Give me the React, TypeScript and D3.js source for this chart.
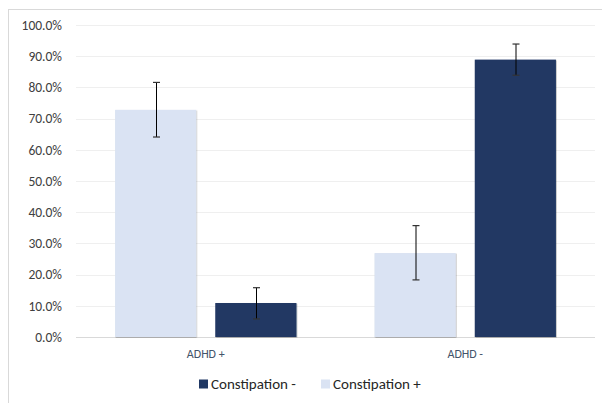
import React, { useEffect, useRef } from 'react';
import * as d3 from 'd3';

const categories = ['ADHD +', 'ADHD -'];
const seriesNames = ['Constipation +', 'Constipation -'];
const seriesColors = ['#DAE3F3', '#203864'];
// values per category, order: Constipation +, Constipation -
const values = [
  [72.8, 10.9],
  [26.9, 88.9],
];
const errLow = [
  [64.1, 5.8],
  [18.3, 83.9],
];
const errHigh = [
  [81.6, 15.8],
  [35.7, 93.9],
];
const yTicks = [0, 10, 20, 30, 40, 50, 60, 70, 80, 90, 100];
const legendOrder = [1, 0];

const FONT = 'Carlito, Lato, "Open Sans", sans-serif';

const App: React.FC = () => {
  const svgRef = useRef<SVGSVGElement>(null);

  useEffect(() => {
    if (!svgRef.current) return;
    const svg = d3.select(svgRef.current);
    svg.selectAll('*').remove();

    const W = 602;
    const H = 395;

    // chart border (extends past the window on right/bottom)
    svg.append('rect')
      .attr('x', 0.5).attr('y', 1.5)
      .attr('width', W + 20).attr('height', H + 20)
      .attr('fill', '#fff')
      .attr('stroke', '#D9D9D9');

    const left = 68, right = 587, top = 17, bottom = 329;

    const x = d3.scaleBand<string>().domain(categories).range([left, right]);
    const y = d3.scaleLinear().domain([0, 100]).range([bottom, top]);

    const g = svg.append('g');

    // gridlines
    g.selectAll('.grid')
      .data(yTicks)
      .enter().append('line')
      .attr('x1', left).attr('x2', right)
      .attr('y1', d => Math.round(y(d)) + 0.5)
      .attr('y2', d => Math.round(y(d)) + 0.5)
      .attr('stroke', d => (d === 0 ? '#D9D9D9' : '#EFEFEF'))
      .attr('stroke-width', 1);

    // y labels
    g.selectAll('.ylab')
      .data(yTicks)
      .enter().append('text')
      .attr('x', left - 14)
      .attr('y', d => y(d))
      .attr('dy', '0.35em')
      .attr('text-anchor', 'end')
      .attr('font-family', FONT)
      .attr('font-size', 13.5)
      .attr('fill', '#404040')
      .text(d => d.toFixed(1) + '%');

    const inner = d3.scaleBand<number>()
      .domain([0, 1])
      .range([0, x.bandwidth()])
      .paddingInner(0.19)
      .paddingOuter(0.39);

    const defs = svg.append('defs');
    const filter = defs.append('filter').attr('id', 'shadow')
      .attr('x', '-10%').attr('y', '-10%').attr('width', '120%').attr('height', '120%');
    filter.append('feDropShadow')
      .attr('dx', 0.6).attr('dy', 0.6).attr('stdDeviation', 0.6)
      .attr('flood-color', '#000').attr('flood-opacity', 0.35);

    categories.forEach((cat, ci) => {
      const cg = g.append('g').attr('transform', `translate(${x(cat)},0)`);
      [0, 1].forEach(si => {
        const v = values[ci][si];
        const bx = inner(si)!;
        const bw = inner.bandwidth();
        cg.append('rect')
          .attr('x', bx).attr('y', y(v))
          .attr('width', bw).attr('height', y(0) - y(v))
          .attr('fill', seriesColors[si])
          .attr('filter', 'url(#shadow)');
        const cx = Math.round(bx + bw / 2) + 0.5;
        cg.append('line')
          .attr('x1', cx).attr('x2', cx)
          .attr('y1', y(errHigh[ci][si])).attr('y2', y(errLow[ci][si]))
          .attr('stroke', '#000').attr('stroke-width', 1);
        [errHigh[ci][si], errLow[ci][si]].forEach(e => {
          cg.append('line')
            .attr('x1', cx - 3.5).attr('x2', cx + 3.5)
            .attr('y1', y(e)).attr('y2', y(e))
            .attr('stroke', '#333').attr('stroke-width', 1.2);
        });
      });
      g.append('text')
        .attr('x', x(cat)! + x.bandwidth() / 2)
        .attr('y', bottom + 21)
        .attr('text-anchor', 'middle')
        .attr('font-family', FONT)
        .attr('font-size', 12)
        .attr('fill', '#44546A')
        .text(cat);
    });

    // legend
    const legendY = 376;
    const lg = svg.append('g');
    const items = [
      { si: legendOrder[0], x: 191 },
      { si: legendOrder[1], x: 313 },
    ];
    items.forEach(it => {
      lg.append('rect')
        .attr('x', it.x).attr('y', legendY - 4.5)
        .attr('width', 9).attr('height', 9)
        .attr('fill', seriesColors[it.si]);
      lg.append('text')
        .attr('x', it.x + 12)
        .attr('y', legendY)
        .attr('dy', '0.35em')
        .attr('font-family', FONT)
        .attr('font-size', 15)
        .attr('fill', '#262626')
        .text(seriesNames[it.si]);
    });
  }, []);

  return (
    <svg ref={svgRef} width={602} height={395} style={{ display: 'block' }} />
  );
};

export default App;
